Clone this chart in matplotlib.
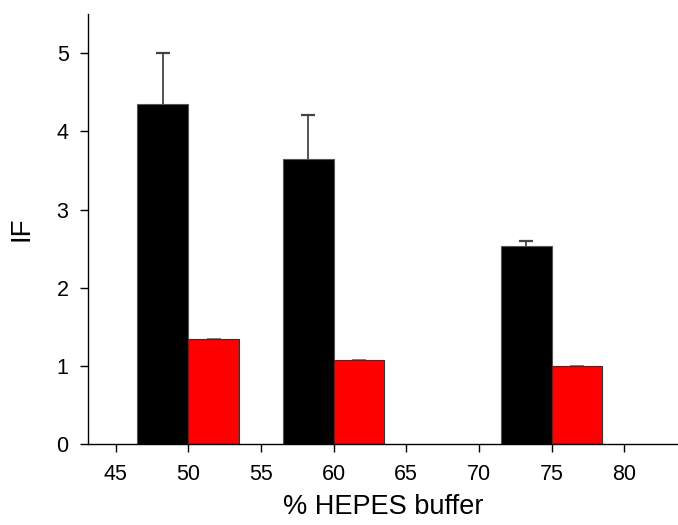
import matplotlib
matplotlib.use("Agg")
import matplotlib.pyplot as plt
import numpy as np

plt.rcParams['font.family'] = ['Liberation Sans', 'DejaVu Sans']

# Data
black_x = [48.25, 58.25, 73.25]
black_vals = [4.35, 3.65, 2.53]
black_err = [0.65, 0.56, 0.07]
red_x = [51.75, 61.75, 76.75]
red_vals = [1.34, 1.075, 1.0]
red_err = [0.01, 0.005, 0.005]
bar_width = 3.5
xticks = [45, 50, 55, 60, 65, 70, 75, 80]
yticks = [0, 1, 2, 3, 4, 5]

fig = plt.figure(figsize=(6.78, 5.25), dpi=100)
ax = fig.add_axes([88/678, 1 - 444.3/525, (678-88)/678, (444.3-14)/525])


def upper_errorbars(x, vals, err, color, lw):
    x = np.asarray(x)
    vals = np.asarray(vals)
    tops = vals + np.asarray(err)
    ax.vlines(x, vals, tops, colors=color, linewidth=lw, zorder=1)
    ax.plot(x, tops, linestyle='none', marker='_', markersize=10,
            markeredgewidth=lw + 0.3, color=color, zorder=1)


ax.bar(black_x, black_vals, width=bar_width, color='black', edgecolor='#555555',
       linewidth=0.8, zorder=2)
upper_errorbars(black_x, black_vals, black_err, '#444444', 1.3)
ax.bar(red_x, red_vals, width=bar_width, color='#ff0000', edgecolor='#333333',
       linewidth=0.8, zorder=2)
upper_errorbars(red_x, red_vals, red_err, '#777777', 1.0)

ax.set_xlim(43.1, 83.7)
ax.set_ylim(0, 5.5)
ax.set_xticks(xticks)
ax.set_yticks(yticks)
ax.spines['top'].set_visible(False)
ax.spines['right'].set_visible(False)
ax.spines['left'].set_linewidth(1.0)
ax.spines['bottom'].set_linewidth(1.0)
ax.tick_params(axis='both', direction='out', length=6, width=1.0, labelsize=15.5, pad=8)
ax.set_xlabel('% HEPES buffer', fontsize=19.5, labelpad=7)
ax.set_ylabel('IF', fontsize=20, labelpad=16)

fig.savefig('out.png', dpi=100)
